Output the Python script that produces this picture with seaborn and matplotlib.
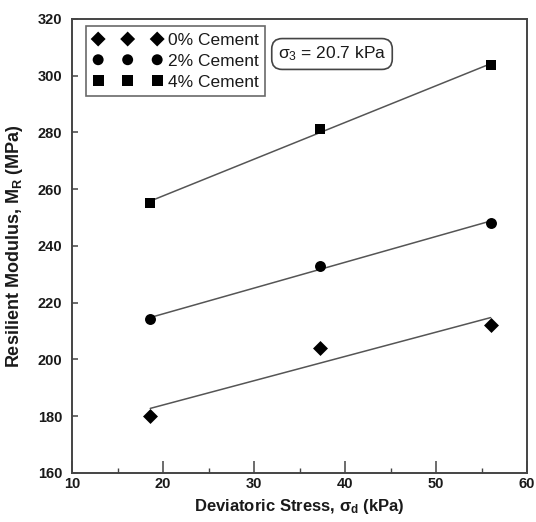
import matplotlib
matplotlib.use("Agg")
import matplotlib.pyplot as plt
import seaborn as sns
import numpy as np
from matplotlib.ticker import MultipleLocator

# Data
stress = [18.6, 37.3, 56.0]
mr_0 = [180.2, 203.9, 212.2]
mr_2 = [214.2, 233.0, 248.2]
mr_4 = [255.3, 281.1, 303.7]
series_labels = ["0% Cement", "2% Cement", "4% Cement"]
series_markers = ["D", "o", "s"]
x_ticks = [10, 20, 30, 40, 50, 60]
y_ticks = [160, 180, 200, 220, 240, 260, 280, 300, 320]

sns.set_theme(style="white")
plt.rcParams['font.family'] = ['Liberation Sans', 'DejaVu Sans']
plt.rcParams['mathtext.fontset'] = 'custom'
plt.rcParams['mathtext.rm'] = 'Liberation Sans'
plt.rcParams['mathtext.it'] = 'Liberation Sans'
plt.rcParams['mathtext.bf'] = 'Liberation Sans:bold'

fig = plt.figure(figsize=(5.36, 5.22), dpi=100)
ax = fig.add_axes([72/536, 1-473/522, 455/536, 454/522])

txt = '#1a1a1a'
msizes = {"D": 58, "o": 62, "s": 62}
for ys, lab, mk in zip([mr_0, mr_2, mr_4], series_labels, series_markers):
    sns.regplot(x=stress, y=ys, ax=ax, ci=None, marker=mk, color='black',
                label=lab,
                scatter_kws=dict(s=msizes[mk], linewidths=0, alpha=1, zorder=3),
                line_kws=dict(color='#555555', lw=1.1, zorder=2))

ax.set_xlim(10, 60)
ax.set_ylim(160, 320)
ax.set_xticks(x_ticks)
ax.set_yticks(y_ticks)
ax.xaxis.set_minor_locator(MultipleLocator(5))
ax.tick_params(axis='x', which='major', direction='in', length=9, width=1.1,
               color='#444444', pad=3, labelsize=10.5, labelcolor=txt, bottom=True)
ax.tick_params(axis='x', which='minor', direction='in', length=3.5, width=1.0,
               color='#444444', bottom=True)
ax.tick_params(axis='y', which='major', direction='in', length=4, width=1.1,
               color='#444444', pad=7, labelsize=10.5, labelcolor=txt, left=True)
for lbl in ax.get_xticklabels() + ax.get_yticklabels():
    lbl.set_fontweight('bold')

for sp in ax.spines.values():
    sp.set_color('#444444')
    sp.set_linewidth(1.4)

ax.set_xlabel(r"Deviatoric Stress, $\mathbf{\sigma_d}$ (kPa)", fontsize=12,
              fontweight='bold', color=txt, labelpad=4)
ax.set_ylabel(r"Resilient Modulus, $\mathbf{M_R}$ (MPa)", fontsize=13,
              fontweight='bold', color=txt, labelpad=9)

leg = ax.legend(loc='upper left', bbox_to_anchor=((86-72)/455, (473-26)/454),
                borderaxespad=0, scatterpoints=3, scatteryoffsets=[0.5],
                handlelength=4.0, handletextpad=0.3, labelspacing=0.32,
                borderpad=0.4, fontsize=12.5, frameon=True, fancybox=False)
leg.get_frame().set_edgecolor('#444444')
leg.get_frame().set_linewidth(1.2)
for t in leg.get_texts():
    t.set_color(txt)

ax.text((332-72)/455*50+10, 320-(54-19)/2.8375, r"$\sigma_3$ = 20.7 kPa",
        fontsize=12.5, color=txt, ha='center', va='center',
        bbox=dict(boxstyle='round,pad=0.35,rounding_size=0.6', fc='white',
                  ec='#444444', lw=1.2))

fig.savefig("out.png", dpi=100)
